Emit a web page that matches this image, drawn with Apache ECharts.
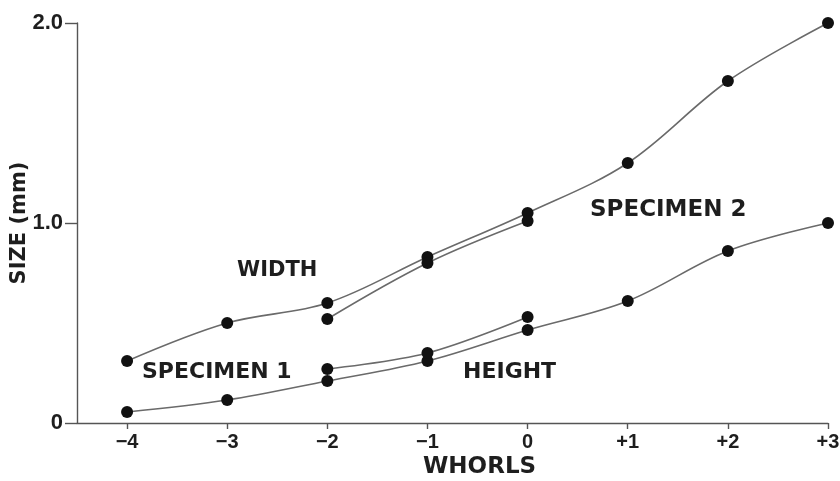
<!DOCTYPE html>
<html>
<head>
<meta charset="utf-8">
<script src="https://cdn.jsdelivr.net/npm/echarts@6/dist/echarts.min.js"></script>
<style>html,body{margin:0;padding:0;background:#fff}#c{width:840px;height:481px}</style>
</head>
<body>
<div id="c"></div>
<script>
// Data
var whorls = [-4, -3, -2, -1, 0, 1, 2, 3];
var whorlLabels = ['\u22124', '\u22123', '\u22122', '\u22121', '0', '+1', '+2', '+3'];
var yTickLabels = ['0', '1.0', '2.0'];
var spec2Width = [0.31, 0.50, 0.60, 0.83, 1.05, 1.30, 1.71, 2.00];
var spec1WidthX = [-2, -1, 0];
var spec1Width = [0.52, 0.80, 1.01];
var spec2Height = [0.055, 0.115, 0.21, 0.31, 0.465, 0.61, 0.86, 1.00];
var spec1HeightX = [-2, -1, 0];
var spec1Height = [0.27, 0.35, 0.53];

function pairs(xs, ys) { return xs.map(function (x, i) { return [x, ys[i]]; }); }

var TICKFONT = 'Liberation Sans';
var TXT = '#1e1e1e';
var lineStyle = { color: '#6a6a6a', width: 1.6 };
var itemStyle = { color: '#111' };

function lineSeries(name, data) {
  return {
    name: name, type: 'line', data: data, smooth: 0.35,
    symbol: 'circle', symbolSize: 12,
    lineStyle: lineStyle, itemStyle: itemStyle,
    emphasis: { disabled: true }, animation: false, z: 3
  };
}

var chart = echarts.init(document.getElementById('c'), null, { renderer: 'canvas' });
chart.setOption({
  backgroundColor: '#fff',
  animation: false,
  grid: { left: 77, right: 12, top: 23, bottom: 58, containLabel: false, outerBoundsMode: 'none' },
  xAxis: {
    type: 'value', min: -4.5, max: 3,
    axisLine: { show: true, lineStyle: { color: '#555', width: 1.4 } },
    axisTick: { show: true, length: 6, customValues: whorls, lineStyle: { color: '#555', width: 1.4 } },
    axisLabel: {
      customValues: whorls, margin: 9, hideOverlap: false,
      fontFamily: TICKFONT, fontWeight: 'bold', fontSize: 20, color: TXT,
      formatter: function (v) { var i = whorls.indexOf(v); return i >= 0 ? whorlLabels[i] : ''; }
    },
    splitLine: { show: false }
  },
  yAxis: {
    type: 'value', min: 0, max: 2, interval: 1,
    axisLine: { show: true, onZero: false, lineStyle: { color: '#555', width: 1.4 } },
    axisTick: { show: true, length: 12, lineStyle: { color: '#555', width: 1.4 } },
    axisLabel: {
      margin: 14, fontFamily: TICKFONT, fontWeight: 'bold', fontSize: 22, color: TXT,
      formatter: function (v) { return yTickLabels[Math.round(v)]; }
    },
    splitLine: { show: false }
  },
  graphic: [
    { type: 'text', x: 20, y: 223, rotation: Math.PI / 2,
      style: { text: 'SIZE (mm)', font: 'bold 21px "DejaVu Sans"', fill: TXT, align: 'center', verticalAlign: 'middle' } },
    { type: 'text', left: 237, top: 260, style: { text: 'WIDTH', font: 'bold 21px "DejaVu Sans"', fill: TXT } },
    { type: 'text', left: 142, top: 361, style: { text: 'SPECIMEN 1', font: 'bold 22px "DejaVu Sans"', fill: TXT } },
    { type: 'text', left: 463, top: 361, style: { text: 'HEIGHT', font: 'bold 22px "DejaVu Sans"', fill: TXT } },
    { type: 'text', left: 590, top: 199, style: { text: 'SPECIMEN 2', font: 'bold 23px "DejaVu Sans"', fill: TXT } },
    { type: 'text', left: 423, top: 456, style: { text: 'WHORLS', font: 'bold 23px "DejaVu Sans"', fill: TXT } }
  ],
  series: [
    lineSeries('Specimen 2 width', pairs(whorls, spec2Width)),
    lineSeries('Specimen 1 width', pairs(spec1WidthX, spec1Width)),
    lineSeries('Specimen 2 height', pairs(whorls, spec2Height)),
    lineSeries('Specimen 1 height', pairs(spec1HeightX, spec1Height))
  ]
});
</script>
</body>
</html>
